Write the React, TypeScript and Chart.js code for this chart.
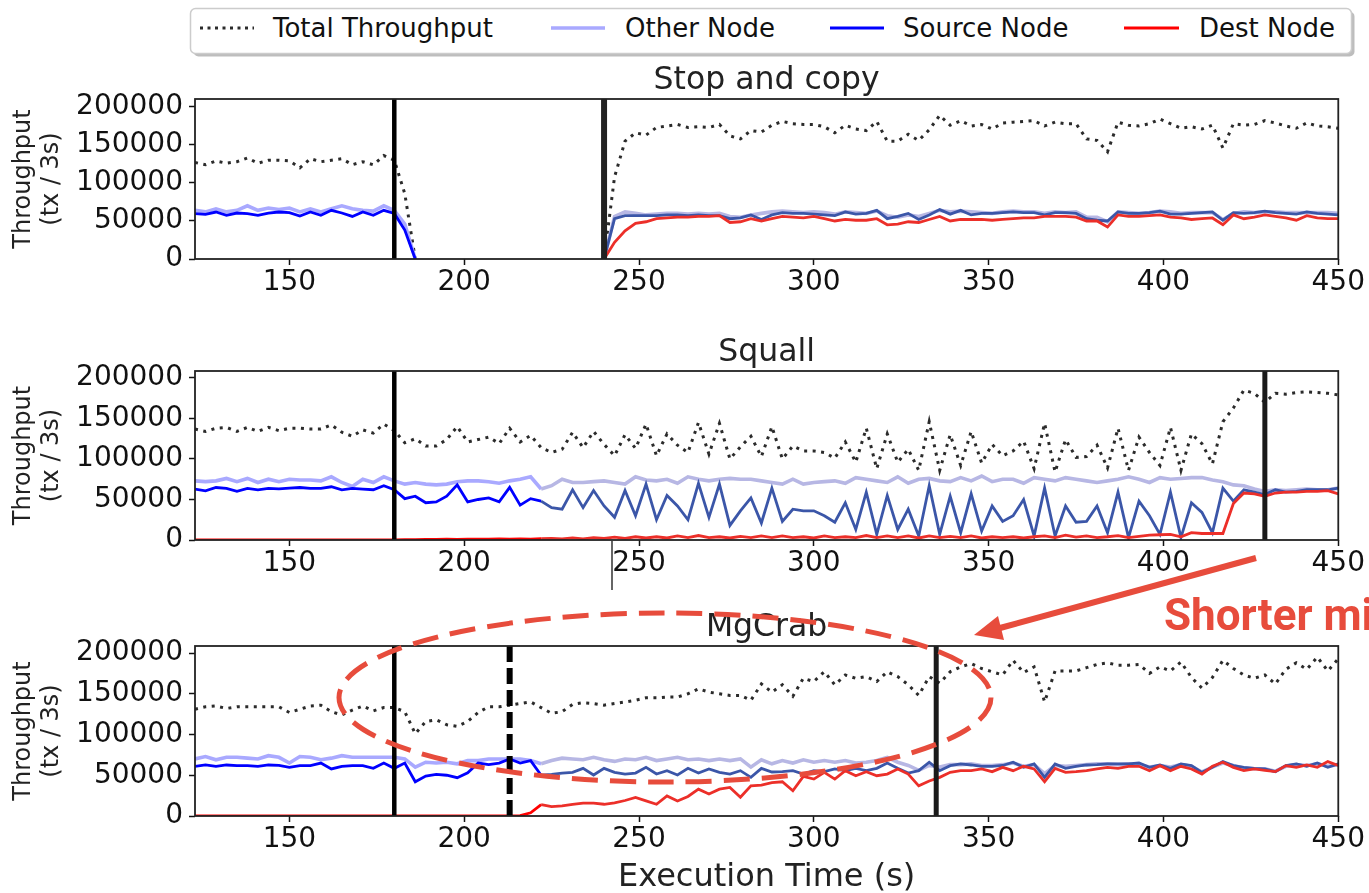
import React, { useEffect, useRef } from 'react';
import { Chart, registerables } from 'chart.js';

Chart.register(...registerables);

// ---------------- data ----------------
const times = [123,126,129,132,135,138,141,144,147,150,153,156,159,162,165,168,171,174,177,180,183,186,189,192,195,198,201,204,207,210,213,216,219,222,225,228,231,234,237,240,243,246,249,252,255,258,261,264,267,270,273,276,279,282,285,288,291,294,297,300,303,306,309,312,315,318,321,324,327,330,333,336,339,342,345,348,351,354,357,360,363,366,369,372,375,378,381,384,387,390,393,396,399,402,405,408,411,414,417,420,423,426,429,432,435,438,441,444,447,450];

const xTickValues = [150, 200, 250, 300, 350, 400, 450];
const yTickValues = [0, 50000, 100000, 150000, 200000];
const yTickLabels = ['0', '50000', '100000', '150000', '200000'];
const legendLabels = ['Total Throughput', 'Other Node', 'Source Node', 'Dest Node'];
const panelTitles = ['Stop and copy', 'Squall', 'MgCrab'];
const xAxisTitle = 'Execution Time (s)';
const yAxisTitle = ['Throughput', '(tx / 3s)'];
const calloutText = 'Shorter mi';

// Stop and copy
const scTotal = [
127000,124000,129000,126000,128000,133000,126000,130000,130000,129000,
120000,132000,128000,130000,132000,124000,128000,124000,136000,130000,
86000,0,
null,null,null,null,null,null,null,null,null,null,null,null,null,null,null,null,null,
0,108000,155000,166000,163000,173000,175000,177000,173000,174000,
173000,177000,162000,158000,169000,167000,
176000,181000,178000,177000,177000,174000,166000,176000,171000,169000,
181000,155000,155000,164000,156000,170000,189000,176000,182000,175000,
177000,171000,179000,180000,181000,182000,175000,180000,178000,178000,
158000,156000,141000,180000,176000,175000,178000,184000,178000,172000,
174000,171000,176000,146000,178000,176000,177000,182000,179000,175000,
172000,179000,175000,174000,172000];
const scOther = [
64000,62000,66000,62000,64000,70000,64000,67000,65000,67000,
62000,66000,62000,66000,70000,66000,64000,63000,70000,64000,
46000,0,
null,null,null,null,null,null,null,null,null,null,null,null,null,null,null,null,null,
0,56000,62000,60000,58000,59000,60000,60000,59000,60000,
59000,60000,56000,55000,58000,60000,
62000,63000,62000,61000,62000,61000,59000,62000,61000,60000,
63000,57000,55000,58000,56000,60000,64000,62000,63000,62000,
61000,60000,62000,63000,62000,62000,60000,62000,61000,62000,
55000,55000,49000,62000,61000,60000,61000,63000,62000,60000,
61000,61000,61000,52000,60000,62000,61000,62000,62000,61000,
61000,61000,61000,61000,60000];
const scSource = [
59600,58700,61800,57400,60500,59600,57400,60500,61800,61000,
56600,61800,57400,64000,60500,56000,61800,57400,64000,60000,
38000,0,
null,null,null,null,null,null,null,null,null,null,null,null,null,null,null,null,null,
0,53000,57000,57000,57000,57000,58000,58000,57000,58000,
57000,57000,53000,54000,58000,52000,
58000,61000,60000,60000,59000,58000,57000,62000,59000,60000,
64000,53000,56000,60000,52000,58000,65000,59000,64000,58000,
60000,60000,61000,62000,61000,61000,58000,61000,61000,60000,
53000,51000,50000,62000,60000,60000,61000,63000,59000,59000,
60000,61000,62000,51000,61000,60000,61000,63000,61000,60000,
59000,62000,60000,59000,58000];
const scDest = [
null,null,null,null,null,null,null,null,null,null,
null,null,null,null,null,null,null,null,null,null,
null,null,
null,null,null,null,null,null,null,null,null,null,null,null,null,null,null,null,null,
0,22000,37000,47000,49000,53000,54000,55000,55000,56000,
56000,57000,48000,49000,53000,50000,
53000,56000,55000,54000,56000,53000,50000,52000,51000,51000,
53000,45000,46000,49000,48000,52000,56000,50000,52000,52000,
52000,51000,52000,53000,54000,54000,56000,56000,56000,55000,
50000,50000,42000,58000,56000,56000,57000,58000,55000,54000,
52000,53000,54000,45000,58000,53000,55000,58000,56000,54000,
51000,57000,54000,53000,53000];

// Squall
const sqTotal = [
137000,134000,138000,139000,134000,139000,134000,139000,135000,138000,
138000,137000,137000,142000,133000,128000,136000,132000,143000,135000,
120000,125000,116000,116000,124000,140000,121000,124000,127000,119000,
138000,121000,129000,114000,108000,112000,133000,114000,134000,118000,
104000,130000,113000,143000,104000,131000,117000,108000,145000,106000,
144000,100000,115000,128000,103000,
140000,100000,116000,110000,110000,108000,101000,121000,96000,138000,
88000,131000,96000,112000,86000,146000,86000,130000,92000,134000,
95000,118000,104000,110000,122000,88000,144000,84000,124000,102000,
103000,117000,89000,138000,86000,127000,108000,92000,139000,86000,
131000,119000,94000,146000,163000,185000,181000,170000,181000,180000,
182000,183000,182000,181000,179000];
const sqOther = [
73000,72000,73000,76000,72000,76000,71000,75000,72000,75000,
74000,74000,73000,78000,71000,66000,75000,71000,78000,73000,
69000,71000,69000,68000,69000,72000,73000,73000,72000,70000,
73000,75000,78000,63000,67000,75000,71000,71000,72000,73000,
71000,69000,78000,74000,73000,75000,70000,78000,75000,73000,
75000,76000,75000,75000,73000,
71000,69000,75000,69000,71000,72000,73000,70000,77000,75000,
73000,71000,78000,70000,75000,76000,73000,72000,77000,73000,
79000,72000,75000,75000,70000,77000,75000,73000,77000,75000,
73000,71000,73000,75000,78000,75000,71000,77000,75000,76000,
77000,77000,74000,72000,68000,67000,63000,60000,62000,61000,
62000,63000,62000,62000,64000];
const sqSource = [
62800,60700,64800,63600,60000,63600,62000,63600,63000,64000,
64800,63600,63600,65700,62000,63600,62800,62000,66900,62000,
51000,54000,46000,47000,54000,68000,47000,50000,52000,47000,
65000,43000,51000,48000,40000,38000,62000,40000,61000,42000,
28000,61000,30000,69000,25000,55000,42000,25000,70000,28000,
69000,18000,36000,52000,21000,
64000,23000,38000,36000,36000,30000,22000,46000,13000,59000,
7000,55000,13000,38000,5000,67000,7000,54000,9000,57000,
11000,42000,23000,30000,50000,5000,64000,5000,42000,22000,
23000,42000,9000,59000,3000,48000,30000,7000,59000,3000,
46000,34000,9000,64000,48000,62000,59000,56000,62000,59000,
60000,62000,62000,62000,64000];
const sqDest = [
0,0,0,0,0,0,0,0,0,0,
0,0,0,0,0,0,0,0,0,0,
500,500,800,600,1000,800,1000,1200,1000,1500,
1000,1500,1200,1800,2000,1500,2500,1500,3000,2000,
3500,2000,4000,2500,4000,2500,5000,3000,5500,3000,
4000,2500,4500,3000,5000,
3000,5000,3000,4000,2500,5000,3000,4000,3000,5500,
3000,5000,3000,5000,2500,5000,3000,4500,3000,5000,
2500,4000,3000,4000,2500,4000,5000,3000,6000,3500,
5000,3000,4000,5500,3000,4500,6000,6500,7000,4000,
9000,8000,8000,8000,45000,58000,57000,54000,58000,59000,
59000,60000,60000,61000,57000];

// MgCrab
const mgTotal = [
131000,134000,135000,132000,134000,134000,134000,134000,134000,127000,
131000,135000,136000,128000,124000,130000,135000,129000,133000,133000,
128000,101000,116000,118000,112000,110000,116000,127000,134000,134000,
136000,138000,140000,133000,126000,128000,137000,139000,138000,136000,
138000,140000,142000,145000,145000,146000,146000,150000,156000,152000,
150000,148000,148000,142000,162000,
152000,161000,147000,169000,165000,177000,161000,173000,169000,171000,
165000,177000,171000,161000,148000,171000,163000,177000,183000,187000,
181000,177000,173000,191000,176000,183000,140000,178000,178000,178000,
182000,186000,188000,185000,185000,186000,175000,183000,178000,189000,
170000,157000,170000,191000,181000,173000,169000,173000,162000,180000,
188000,180000,195000,178000,193000];
const mgOther = [
70000,73000,69000,72000,72000,71000,70000,74000,72000,65000,
73000,72000,69000,71000,74000,72000,72000,72000,72000,72000,
70000,60000,66000,65000,66000,64000,68000,68000,70000,70000,
70000,70000,68000,64000,68000,71000,70000,69000,72000,69000,
67000,70000,69000,72000,68000,70000,72000,69000,70000,68000,
70000,68000,70000,60000,69000,
64000,68000,65000,69000,66000,68000,66000,68000,65000,66000,
68000,72000,66000,62000,56000,62000,60000,63000,63000,64000,
62000,62000,63000,65000,61000,63000,52000,62000,61000,62000,
63000,64000,64000,63000,64000,63000,60000,62000,60000,63000,
61000,54000,60000,65000,62000,59000,58000,58000,55000,61000,
63000,62000,64000,61000,63000];
const mgSource = [
61000,62600,61000,62600,61800,61800,61000,62600,62000,59700,
61800,61800,65000,57700,61000,61800,61800,58500,65000,58500,
65000,42000,49000,51000,50000,47000,53000,65000,63000,65000,
70000,65000,68000,50000,51000,52700,53600,58500,50300,58500,
53600,51500,52700,59700,51500,55600,50300,58500,52700,57700,
53600,51500,55600,47400,58500,
54000,54400,55600,51500,55600,54400,57700,55600,58500,55600,
58500,65000,58500,52700,55600,66000,55600,61800,63900,62600,
61000,61000,62000,66000,59700,63900,47400,63900,58500,61000,
62600,63000,63900,63900,63900,65000,59700,62600,58500,63900,
61800,53600,59700,66700,61800,59700,58500,57700,54400,61800,
63900,61000,65000,59700,63900];
const mgDest = [
0,0,0,0,0,0,0,0,0,0,
0,0,0,0,0,0,0,0,0,0,
0,0,0,0,0,0,0,0,0,0,
0,
500,4000,14000,11500,12400,14400,15700,15700,14400,16000,
19000,22700,18500,14400,24700,18500,24000,33000,27000,33000,
35000,23000,37000,38000,
41000,42000,31000,48600,45300,53600,45300,55600,49400,54400,
49400,51500,57700,51500,37000,43000,47400,53600,55600,55600,
57700,54400,59700,55600,61000,57700,42000,58500,53600,54400,
55600,57700,59700,58500,61000,61000,55600,61800,55600,61000,
57700,51500,61000,66000,59700,55600,57700,56000,54400,61800,
59700,62600,59700,66700,62000];

// migration markers (x values)
const scMarks = [180, 240];
const sqMarks = [180, 429];
const mgMarks = [180, 213, 335];

// ---------------- styles ----------------
const FONT = '"DejaVu Sans", sans-serif';
const C = {
  total: '#2b2b2b',
  other: '#a9a9ff', otherLate: '#b7b7e4',
  source: '#0000ff', sourceLate: '#3b56a8',
  dest: '#ff0000', destLate: '#ec2f29',
};
const LATE_FROM = 222;

const panels = [
  { title: panelTitles[0], total: scTotal, other: scOther, source: scSource, dest: scDest, marks: scMarks,
    markStyles: [{ width: 4.5, color: '#000' }, { width: 6, color: '#222' }],
    yMax: 210500, top: 56, height: 254, padding: { left: 0, right: 28, top: 43, bottom: 11 } },
  { title: panelTitles[1], total: sqTotal, other: sqOther, source: sqSource, dest: sqDest, marks: sqMarks,
    markStyles: [{ width: 4.5, color: '#000' }, { width: 5, color: '#1a1a1a' }],
    yMax: 208600, top: 318, height: 272, padding: { left: 0, right: 28, top: 53, bottom: 10 } },
  { title: panelTitles[2], total: mgTotal, other: mgOther, source: mgSource, dest: mgDest, marks: mgMarks,
    markStyles: [{ width: 4.5, color: '#000' }, { width: 6, color: '#000', dash: [16, 6] }, { width: 5, color: '#1a1a1a' }],
    yMax: 208600, top: 596, height: 297, padding: { left: 0, right: 28, top: 50, bottom: 37 }, xTitle: xAxisTitle },
];

function lateColor(late: string) {
  return (c: any) => (times[c.p0DataIndex] >= LATE_FROM ? late : undefined);
}

function buildConfig(p: any): any {
  const base = { pointRadius: 0, tension: 0, fill: false, spanGaps: false };
  const datasets = [
    { ...base, label: legendLabels[3], data: p.dest, borderColor: C.dest, borderWidth: 2.8, segment: { borderColor: lateColor(C.destLate) } },
    { ...base, label: legendLabels[2], data: p.source, borderColor: C.source, borderWidth: 2.8, segment: { borderColor: lateColor(C.sourceLate) } },
    { ...base, label: legendLabels[1], data: p.other, borderColor: C.other, borderWidth: 3.6, segment: { borderColor: lateColor(C.otherLate) } },
    { ...base, label: legendLabels[0], data: p.total, borderColor: C.total, borderWidth: 3, borderDash: [3, 5.5], borderCapStyle: 'butt' },
  ];
  const gridOpts = { display: true, drawOnChartArea: false, drawTicks: true, tickLength: 6, tickWidth: 1.5, tickColor: '#111' };
  const decor = {
    id: 'decor',
    afterDatasetsDraw(chart: any) {
      const { ctx, chartArea: a, scales } = chart;
      const x = scales.x;
      ctx.save();
      p.marks.forEach((m: number, i: number) => {
        const st = p.markStyles[i];
        const px = x.getPixelForValue(m);
        ctx.beginPath();
        ctx.setLineDash(st.dash || []);
        ctx.lineWidth = st.width;
        ctx.strokeStyle = st.color;
        ctx.lineCap = 'butt';
        ctx.moveTo(px, a.top);
        ctx.lineTo(px, a.bottom);
        ctx.stroke();
      });
      ctx.setLineDash([]);
      ctx.lineWidth = 1.8;
      ctx.strokeStyle = '#222';
      ctx.strokeRect(a.left, a.top, a.right - a.left, a.bottom - a.top);
      ctx.fillStyle = '#222';
      ctx.textAlign = 'center';
      ctx.textBaseline = 'alphabetic';
      ctx.font = '31.5px "DejaVu Sans"';
      ctx.fillText(p.title, (a.left + a.right) / 2, a.top - 10);
      if (p.xTitle) {
        ctx.font = '32px "DejaVu Sans"';
        ctx.fillText(p.xTitle, (a.left + a.right) / 2, a.bottom + 70);
      }
      ctx.restore();
    },
  };
  return {
    type: 'line',
    data: { labels: times, datasets },
    options: {
      animation: false,
      responsive: false,
      devicePixelRatio: 1,
      events: [],
      layout: { padding: p.padding },
      plugins: { legend: { display: false }, tooltip: { enabled: false }, title: { display: false } },
      scales: {
        x: {
          type: 'linear', min: 123, max: 450,
          afterBuildTicks: (s: any) => { s.ticks = xTickValues.map((v) => ({ value: v })); },
          afterFit: (s: any) => { s.height = 40; },
          grid: gridOpts, border: { display: false },
          ticks: { padding: 4, color: '#111', maxRotation: 0, autoSkip: false,
            font: { size: 28, family: FONT, lineHeight: 1 }, callback: (v: any) => String(v) },
        },
        y: {
          type: 'linear', min: 0, max: p.yMax,
          afterBuildTicks: (s: any) => { s.ticks = yTickValues.map((v) => ({ value: v })); },
          afterFit: (s: any) => { s.width = 195; },
          grid: gridOpts, border: { display: false },
          ticks: { padding: 6, color: '#111', autoSkip: false,
            font: { size: 28, family: FONT, lineHeight: 1.2 },
            callback: (v: any) => { const i = yTickValues.indexOf(v); return i >= 0 ? yTickLabels[i] : String(v); } },
          title: { display: true, text: yAxisTitle, color: '#222', font: { size: 24, family: FONT, lineHeight: 1.2 }, padding: { top: 9, bottom: 0 } },
        },
      },
    },
    plugins: [decor],
  };
}

function Panel({ p }: { p: any }) {
  const ref = useRef<HTMLCanvasElement>(null);
  useEffect(() => {
    const chart = new Chart(ref.current as HTMLCanvasElement, buildConfig(p));
    return () => chart.destroy();
  }, []);
  return (
    <canvas ref={ref} width={1369} height={p.height}
      style={{ position: 'absolute', left: 0, top: p.top, width: 1369, height: p.height }} />
  );
}

const legendItems = [
  { x1: 200, x2: 254, tx: 273, color: C.total, dash: '3 4.5', w: 3 },
  { x1: 551, x2: 605, tx: 625, color: C.other, dash: undefined, w: 3.6 },
  { x1: 830, x2: 884, tx: 903, color: C.source, dash: undefined, w: 3 },
  { x1: 1124, x2: 1179, tx: 1199, color: C.dest, dash: undefined, w: 3 },
];

function Legend() {
  return (
    <svg width={1369} height={64} style={{ position: 'absolute', left: 0, top: 0 }}>
      <rect x={193.5} y={11.5} width={1161} height={45} rx={5} fill="#bdbdbd" />
      <rect x={190.5} y={8.5} width={1161} height={45} rx={5} fill="#fff" stroke="#cccccc" strokeWidth={1.5} />
      {legendItems.map((it, i) => (
        <g key={i}>
          <line x1={it.x1} x2={it.x2} y1={28} y2={28} stroke={it.color} strokeWidth={it.w} strokeDasharray={it.dash} />
          <text x={it.tx} y={37} fontFamily="DejaVu Sans" fontSize={26} fill="#111">{legendLabels[i]}</text>
        </g>
      ))}
    </svg>
  );
}

function Annotations() {
  const red = '#e74c3c';
  return (
    <svg width={1369} height={893} style={{ position: 'absolute', left: 0, top: 0, pointerEvents: 'none' }}>
      <line x1={612} x2={612} y1={541} y2={590} stroke="#333" strokeWidth={1.5} />
      <ellipse cx={665} cy={697.5} rx={326} ry={84.5} fill="none" stroke={red} strokeWidth={5} strokeDasharray="26 12" />
      <line x1={1256} y1={558} x2={1000} y2={628} stroke={red} strokeWidth={6} />
      <polygon points="974,635 1004,640 998,616" fill={red} />
      <text x={1164} y={630} fontFamily="Roboto, 'Liberation Sans', sans-serif" fontWeight={700} fontSize={44} fill={red}>{calloutText}</text>
    </svg>
  );
}

export default function App() {
  return (
    <div style={{ position: 'absolute', left: 0, top: 0, width: 1369, height: 893, overflow: 'hidden', background: '#fff' }}>
      <Legend />
      {panels.map((p, i) => <Panel key={i} p={p} />)}
      <Annotations />
    </div>
  );
}
